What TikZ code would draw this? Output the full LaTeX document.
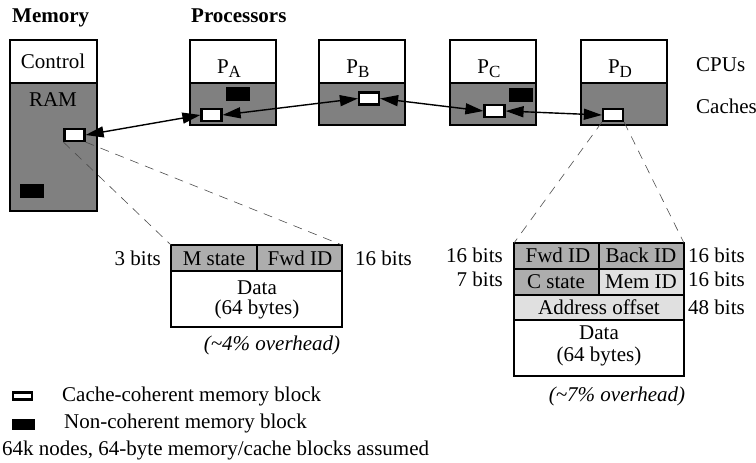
\documentclass[tikz,border=0pt]{standalone}
\usepackage{fontspec}
\setmainfont{Liberation Serif}
\usetikzlibrary{arrows.meta}

\newcommand{\cpulabel}[1]{P\raisebox{-3.5pt}{\fontsize{17}{17}\selectfont #1}}

\tikzset{
  box/.style={draw, line width=2pt},
  cachearea/.style={fill=black!50},
  cohblock/.style={draw, line width=2.2pt, fill=white, inner sep=0pt, minimum width=20pt, minimum height=12pt},
  ncblock/.style={fill=black, inner sep=0pt, minimum width=24pt, minimum height=14pt},
  link/.style={{Triangle[length=18pt,width=11pt]}-{Triangle[length=18pt,width=11pt]}, line width=1.4pt},
  zoomline/.style={dash pattern=on 9pt off 7pt, line width=0.6pt, black!70},
  field/.style={draw, line width=1.6pt},
  darkfield/.style={field, fill=black!32},
  lightfield/.style={field, fill=black!12},
  lbl/.style={inner sep=0pt, text height=13pt, text depth=0pt}
}

\begin{document}
\begin{tikzpicture}[x=1pt, y=-1pt, every node/.style={font=\fontsize{21}{25}\selectfont}]
        \useasboundingbox (0,0) rectangle (756,463);

        % --- MEMORY ---
        \node[lbl, anchor=west] (memtitle) at (12,16) {\textbf{Memory}};
        \fill[cachearea] (10,83) rectangle (97,211);
        \draw[box] (10,40) rectangle (97,211);
        \draw[box] (10,83) -- (97,83);
        \node[lbl] (ctrl) at (53,62) {Control};
        \node[lbl] (ramlbl) at (53,100) {RAM};
        \node[cohblock] (ram) at (74.5,135) {};
        \node[ncblock] (ramnc) at (31.5,191) {};

        % --- PROCESSORS ---
        \node[lbl, anchor=west] (proctitle) at (191,16) {\textbf{Processors}};
        \foreach \x/\p in {190/A, 319/B, 450/C, 581/D} {
            \fill[cachearea] (\x,83) rectangle ++(86,42);
            \draw[box] (\x,40) rectangle ++(86,85);
            \draw[box] (\x,83) -- ++(86,0);
            \node[lbl] (cpu\p) at (\x+39,67) {\cpulabel{\p}};
        }
        % Cache blocks
        \node[ncblock] (pAnc) at (238,94) {};
        \node[cohblock] (pA) at (211.5,115) {};
        \node[cohblock] (pB) at (369,98.5) {};
        \node[ncblock] (pCnc) at (521,94.5) {};
        \node[cohblock] (pC) at (494.5,111) {};
        \node[cohblock] (pD) at (613,115) {};

        \node[lbl, anchor=west] (cpus) at (696,65) {CPUs};
        \node[lbl, anchor=west] (caches) at (696,107) {Caches};

        % Coherence links
        \draw[link] (ram.east) -- (pA.west);
        \draw[link] (pA.east) -- (pB.west);
        \draw[link] (pB.east) -- (pC.west);
        \draw[link] (pC.east) -- (pD.west);

        % --- MEMORY BLOCK FORMAT ---
        \filldraw[darkfield] (171,245) rectangle (257,271);
        \filldraw[darkfield] (257,245) rectangle (342,271);
        \draw[field] (171,245) rectangle (342,327);
        \coordinate (mfmtL) at (171,245);
        \coordinate (mfmtR) at (342,245);
        \node[lbl] (mstate) at (214,259) {M state};
        \node[lbl] (mfwd) at (300,259) {Fwd ID};
        \node[lbl] (mdata) at (257,288) {Data};
        \node[lbl] (mbytes) at (257,308) {(64 bytes)};
        \node[lbl, anchor=east] (mbitsL) at (161,259) {3 bits};
        \node[lbl, anchor=west] (mbitsR) at (355,259) {16 bits};
        \node[lbl] (mover) at (272,344) {\textit{(\textasciitilde 4\% overhead)}};

        % --- CACHE BLOCK FORMAT ---
        \filldraw[darkfield] (514,243) rectangle (599,269);
        \filldraw[darkfield] (599,243) rectangle (684,269);
        \filldraw[darkfield] (514,269) rectangle (599,295);
        \filldraw[lightfield] (599,269) rectangle (684,295);
        \filldraw[lightfield] (514,295) rectangle (684,320);
        \draw[field] (514,243) rectangle (684,376);
        \coordinate (cfmtL) at (514,243);
        \coordinate (cfmtR) at (684,243);
        \node[lbl] (cfwd) at (558,256) {Fwd ID};
        \node[lbl] (cback) at (641,256) {Back ID};
        \node[lbl] (cstate) at (556,282) {C state};
        \node[lbl] (cmem) at (641,282) {Mem ID};
        \node[lbl] (caddr) at (599,308) {Address offset};
        \node[lbl] (cdata) at (599,333) {Data};
        \node[lbl] (cbytes) at (599,355) {(64 bytes)};
        \node[lbl, anchor=east] (cbitsA) at (503,256) {16 bits};
        \node[lbl, anchor=east] (cbitsB) at (503,280) {7 bits};
        \node[lbl, anchor=west] (cbitsC) at (688,256) {16 bits};
        \node[lbl, anchor=west] (cbitsD) at (688,280) {16 bits};
        \node[lbl, anchor=west] (cbitsE) at (688,308) {48 bits};
        \node[lbl] (cover) at (617,395) {\textit{(\textasciitilde 7\% overhead)}};

        % Zoom-in lines
        \draw[zoomline] (ram.south west) -- (mfmtL);
        \draw[zoomline] (ram.south east) -- (mfmtR);
        \draw[zoomline] (pD.south west) -- (cfmtL);
        \draw[zoomline] (pD.south east) -- (cfmtR);

        % --- LEGEND ---
        \node[cohblock, minimum width=19pt, minimum height=7pt] (keycoh) at (22.5,396) {};
        \node[ncblock, minimum width=23pt, minimum height=11pt] (keync) at (23.5,424.5) {};
        \node[lbl, anchor=west] (keycohtxt) at (62,395) {Cache-coherent memory block};
        \node[lbl, anchor=west] (keynctxt) at (64,422) {Non-coherent memory block};
        \node[lbl, anchor=west] (note) at (2,449) {64k nodes, 64-byte memory/cache blocks assumed};

    \end{tikzpicture}
\end{document}
